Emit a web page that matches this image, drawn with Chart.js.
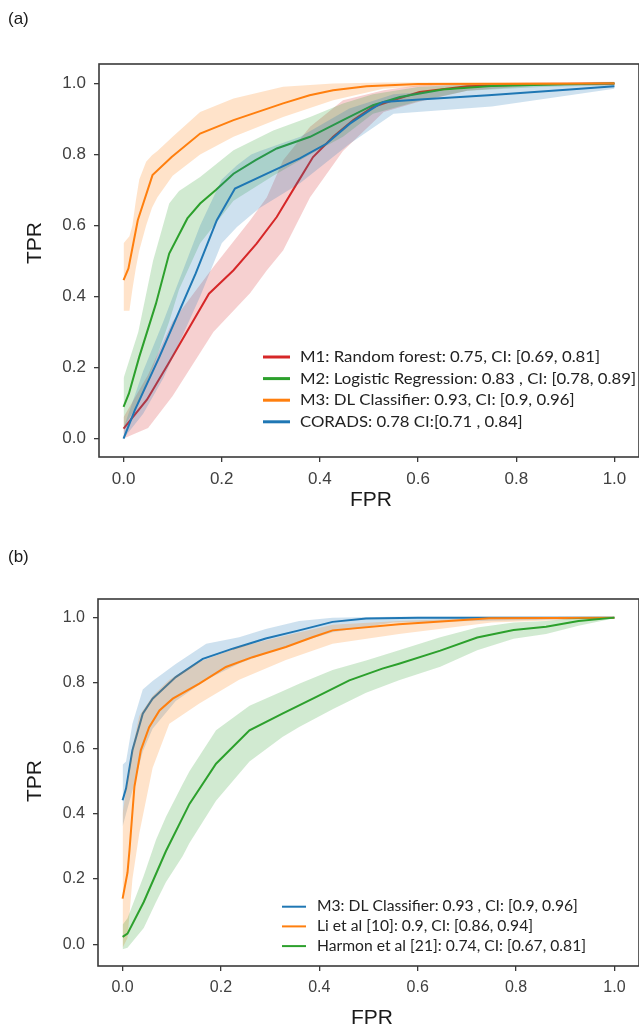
<!DOCTYPE html>
<html>
<head>
<meta charset="utf-8">
<script src="https://cdn.jsdelivr.net/npm/chart.js@4.4.1/dist/chart.umd.min.js"></script>
<style>
  html, body { margin: 0; padding: 0; background: #fff; }
  body { width: 639px; height: 1028px; position: relative; overflow: hidden; }
  .panel { position: absolute; left: 0; }
  #panelA { top: 0; }
  #panelB { top: 520px; }
</style>
</head>
<body>
<div class="panel" id="panelA"><canvas id="chartA" width="639" height="520"></canvas></div>
<div class="panel" id="panelB"><canvas id="chartB" width="639" height="508"></canvas></div>
<script>
// ---- ticks ----
const xTicks = [0, 0.2, 0.4, 0.6, 0.8, 1.0];
const yTicks = [0, 0.2, 0.4, 0.6, 0.8, 1.0];

// ---- panel (a) ----
const namesA = [
    'M1: Random forest: 0.75, CI: [0.69, 0.81]',
    'M2: Logistic Regression: 0.83 , CI: [0.78, 0.89]',
    'M3: DL Classifier: 0.93, CI: [0.9, 0.96]',
    'CORADS: 0.78 CI:[0.71 , 0.84]'
];
const colorsA = ['#d62728', '#2ca02c', '#ff7f0e', '#1f77b4'];

// M1 random forest
const rfFpr = [0, 0.048, 0.093, 0.174, 0.224, 0.271, 0.312, 0.353, 0.386, 0.427, 0.468, 0.508, 0.549, 0.603, 0.70, 0.85, 1.0];
const rfTpr = [0.028, 0.11, 0.215, 0.408, 0.474, 0.549, 0.624, 0.718, 0.793, 0.85, 0.897, 0.934, 0.953, 0.976, 0.992, 0.998, 1.0];
const rfBandFpr = [0, 0.05, 0.1, 0.183, 0.258, 0.292, 0.325, 0.38, 0.447, 0.53, 0.6, 0.7, 0.85, 1.0];
const rfLow = [0.0, 0.03, 0.12, 0.3, 0.41, 0.474, 0.53, 0.68, 0.81, 0.92, 0.948, 0.98, 0.995, 0.995];
const rfHigh = [0.06, 0.18, 0.33, 0.483, 0.615, 0.68, 0.784, 0.878, 0.953, 0.981, 0.995, 1.0, 1.003, 1.005];

// M2 logistic regression
const lrFpr = [0, 0.011, 0.032, 0.066, 0.093, 0.130, 0.156, 0.188, 0.224, 0.269, 0.312, 0.38, 0.447, 0.508, 0.563, 0.65, 0.75, 0.9, 1.0];
const lrTpr = [0.089, 0.127, 0.23, 0.38, 0.521, 0.62, 0.662, 0.70, 0.746, 0.784, 0.817, 0.85, 0.897, 0.939, 0.962, 0.983, 0.993, 0.998, 1.0];
const lrBandFpr = [0, 0.03, 0.06, 0.093, 0.113, 0.156, 0.224, 0.305, 0.38, 0.447, 0.508, 0.6, 0.7, 0.85, 1.0];
const lrLow = [0.03, 0.1, 0.2, 0.33, 0.42, 0.55, 0.67, 0.74, 0.8, 0.85, 0.915, 0.95, 0.98, 0.99, 0.995];
const lrHigh = [0.17, 0.3, 0.5, 0.662, 0.697, 0.737, 0.812, 0.868, 0.906, 0.944, 0.97, 0.99, 0.998, 1.0, 1.002];

// M3 DL classifier
const mlFpr = [0, 0.010, 0.029, 0.059, 0.098, 0.156, 0.224, 0.325, 0.379, 0.427, 0.495, 0.6, 1.0];
const mlTpr = [0.446, 0.479, 0.615, 0.742, 0.793, 0.859, 0.897, 0.944, 0.967, 0.981, 0.992, 0.999, 1.0];
const mlBandFpr = [0, 0.012, 0.018, 0.025, 0.032, 0.046, 0.058, 0.069, 0.1, 0.156, 0.224, 0.325, 0.427, 0.529, 0.65, 1.0];
const mlLow = [0.36, 0.36, 0.42, 0.48, 0.53, 0.6, 0.65, 0.68, 0.74, 0.8, 0.85, 0.906, 0.953, 0.985, 0.995, 0.997];
const mlHigh = [0.55, 0.57, 0.6, 0.67, 0.73, 0.78, 0.798, 0.81, 0.85, 0.92, 0.958, 0.991, 1.0, 1.003, 1.003, 1.003];

// CORADS
const crFpr = [0, 0.023, 0.073, 0.147, 0.19, 0.227, 0.292, 0.359, 0.414, 0.461, 0.502, 0.529, 0.603, 0.743, 0.909, 1.0];
const crTpr = [0.0, 0.08, 0.23, 0.465, 0.615, 0.704, 0.746, 0.789, 0.831, 0.887, 0.925, 0.948, 0.955, 0.967, 0.983, 0.992];
const crBandFpr = [0, 0.04, 0.081, 0.156, 0.2, 0.231, 0.26, 0.278, 0.36, 0.46, 0.55, 0.75, 1.0];
const crLow = [0.0, 0.07, 0.17, 0.4, 0.55, 0.596, 0.63, 0.65, 0.72, 0.83, 0.915, 0.935, 0.985];
const crHigh = [0.03, 0.19, 0.33, 0.6, 0.73, 0.77, 0.8, 0.81, 0.85, 0.93, 0.97, 0.99, 1.0];

// ---- panel (b) ----
const namesB = [
    'M3: DL Classifier: 0.93 , CI: [0.9, 0.96]',
    'Li et al [10]: 0.9, CI: [0.86, 0.94]',
    'Harmon et al [21]: 0.74, CI: [0.67, 0.81]'
];
const colorsB = ['#1f77b4', '#ff7f0e', '#2ca02c'];

// M3 DL classifier
const dlFpr = [0, 0.007, 0.02, 0.041, 0.061, 0.108, 0.163, 0.224, 0.291, 0.359, 0.427, 0.495, 0.6, 1.0];
const dlTpr = [0.441, 0.477, 0.594, 0.706, 0.752, 0.818, 0.874, 0.905, 0.936, 0.961, 0.987, 0.997, 1.0, 1.0];
const dlBandFpr = [0, 0.007, 0.02, 0.041, 0.061, 0.108, 0.17, 0.237, 0.291, 0.359, 0.427, 0.55, 1.0];
const dlLow = [0.36, 0.4, 0.47, 0.59, 0.66, 0.745, 0.81, 0.86, 0.89, 0.925, 0.955, 0.985, 0.997];
const dlHigh = [0.55, 0.56, 0.675, 0.78, 0.806, 0.858, 0.92, 0.94, 0.965, 0.99, 1.0, 1.003, 1.003];

// Li et al
const liFpr = [0, 0.01, 0.014, 0.024, 0.037, 0.054, 0.075, 0.102, 0.156, 0.21, 0.264, 0.332, 0.386, 0.427, 0.562, 0.663, 0.745, 1.0];
const liTpr = [0.14, 0.22, 0.288, 0.482, 0.594, 0.665, 0.716, 0.752, 0.798, 0.849, 0.879, 0.91, 0.94, 0.961, 0.98, 0.99, 0.998, 1.0];
const liBandFpr = [0, 0.01, 0.02, 0.034, 0.061, 0.095, 0.156, 0.237, 0.332, 0.427, 0.562, 0.75, 1.0];
const liLow = [-0.01, 0.02, 0.2, 0.34, 0.54, 0.675, 0.737, 0.81, 0.87, 0.92, 0.95, 0.985, 0.998];
const liHigh = [0.40, 0.5, 0.6, 0.7, 0.76, 0.81, 0.865, 0.91, 0.945, 0.978, 0.99, 1.0, 1.002];

// Harmon et al
const hmFpr = [0, 0.01, 0.043, 0.088, 0.136, 0.19, 0.258, 0.325, 0.393, 0.461, 0.528, 0.562, 0.646, 0.721, 0.795, 0.861, 0.927, 1.0];
const hmTpr = [0.023, 0.033, 0.13, 0.285, 0.43, 0.553, 0.655, 0.706, 0.757, 0.808, 0.844, 0.859, 0.899, 0.939, 0.962, 0.972, 0.99, 1.0];
const hmBandFpr = [0, 0.01, 0.043, 0.068, 0.088, 0.122, 0.136, 0.19, 0.258, 0.325, 0.359, 0.427, 0.495, 0.562, 0.646, 0.721, 0.795, 0.861, 0.927, 1.0];
const hmLow = [-0.015, -0.01, 0.05, 0.13, 0.19, 0.27, 0.31, 0.44, 0.56, 0.635, 0.665, 0.72, 0.77, 0.808, 0.85, 0.9, 0.935, 0.95, 0.975, 0.998];
const hmHigh = [0.06, 0.08, 0.21, 0.32, 0.39, 0.49, 0.53, 0.655, 0.73, 0.775, 0.798, 0.84, 0.869, 0.9, 0.94, 0.97, 0.985, 0.99, 1.0, 1.002];

// ============================================
// helpers
// ============================================
Chart.defaults.font.family = "'Liberation Sans', Arial, sans-serif";

const toPts = (xs, ys) => xs.map((x, i) => ({ x: x, y: ys[i] }));

function hexToRgba(hex, a) {
    const n = parseInt(hex.slice(1), 16);
    return `rgba(${(n >> 16) & 255}, ${(n >> 8) & 255}, ${n & 255}, ${a})`;
}

// one ROC curve = upper band + lower band + main line
function rocDatasets(list) {
    const out = [];
    const n = list.length;
    list.forEach((s, k) => {
        const ord = 2 * (n - k);
        out.push({
            label: s.name + ' upper',
            data: toPts(s.bandFpr, s.high),
            borderColor: 'rgba(0,0,0,0)',
            borderWidth: 0,
            backgroundColor: hexToRgba(s.color, 0.22),
            pointRadius: 0,
            fill: '+1',
            order: ord
        });
        out.push({
            label: s.name + ' lower',
            data: toPts(s.bandFpr, s.low),
            borderColor: 'rgba(0,0,0,0)',
            borderWidth: 0,
            pointRadius: 0,
            fill: false,
            order: ord
        });
        out.push({
            label: s.name,
            data: toPts(s.fpr, s.tpr),
            borderColor: s.color,
            borderWidth: 2,
            pointRadius: 0,
            fill: false,
            order: ord - 1
        });
    });
    return out;
}

// frame, axis titles, panel label and legend
const decorPlugin = {
    id: 'decor',
    afterDraw(chart, args, o) {
        const { ctx, chartArea: a } = chart;
        ctx.save();
        ctx.strokeStyle = '#3a3a3a';
        ctx.lineWidth = 1.6;
        ctx.strokeRect(a.left, a.top, a.right - a.left, a.bottom - a.top);

        ctx.fillStyle = '#1a1a1a';
        ctx.textAlign = 'left';
        ctx.textBaseline = 'middle';
        ctx.font = "17px 'Liberation Sans', Arial, sans-serif";
        ctx.fillText(o.panelLabel, o.labelX, o.labelY);

        ctx.textAlign = 'center';
        ctx.font = "21px 'Liberation Sans', Arial, sans-serif";
        ctx.fillText(o.xTitle, o.xTitleX, o.xTitleY);
        ctx.save();
        ctx.translate(o.yTitleX, o.yTitleY);
        ctx.rotate(-Math.PI / 2);
        ctx.fillText(o.yTitle, 0, 0);
        ctx.restore();

        const L = o.legend;
        ctx.font = `${L.size}px Lato, 'Liberation Sans', sans-serif`;
        const sx = L.refWidth / ctx.measureText(L.names[L.refRow]).width;
        L.names.forEach((name, i) => {
            const y = L.y + i * L.dy;
            ctx.strokeStyle = L.colors[i];
            ctx.lineWidth = L.lineWidth;
            ctx.beginPath();
            ctx.moveTo(L.lineX0, y);
            ctx.lineTo(L.lineX1, y);
            ctx.stroke();
            ctx.save();
            ctx.translate(L.textX, y);
            ctx.scale(sx, 1);
            ctx.fillStyle = '#222';
            ctx.textAlign = 'left';
            ctx.fillText(name, 0, 0);
            ctx.restore();
        });
        ctx.restore();
    }
};

function makeChart(canvasId, seriesList, cfg) {
    const tickFont = { size: cfg.tickSize };
    return new Chart(document.getElementById(canvasId), {
        type: 'line',
        data: { datasets: rocDatasets(seriesList) },
        options: {
            responsive: false,
            animation: false,
            devicePixelRatio: 1,
            layout: { padding: { top: cfg.top, left: 0, right: 0, bottom: 0 } },
            plugins: {
                legend: { display: false },
                tooltip: { enabled: false },
                decor: cfg.decor
            },
            scales: {
                x: {
                    type: 'linear',
                    min: -0.05,
                    max: 1.05,
                    afterBuildTicks: s => { s.ticks = xTicks.map(v => ({ value: v })); },
                    afterFit: s => { s.height = cfg.xHeight; },
                    ticks: { callback: v => v.toFixed(1), font: tickFont, color: '#404040', padding: 7, maxRotation: 0, autoSkip: false },
                    grid: { drawOnChartArea: false, drawTicks: true, tickLength: 5, color: '#3a3a3a', lineWidth: 1.3 },
                    border: { display: false }
                },
                y: {
                    type: 'linear',
                    min: cfg.yMin,
                    max: cfg.yMax,
                    afterBuildTicks: s => { s.ticks = yTicks.map(v => ({ value: v })); },
                    afterFit: s => { s.width = cfg.yWidth; },
                    ticks: { callback: v => v.toFixed(1), font: tickFont, color: '#404040', padding: 8, autoSkip: false },
                    grid: { drawOnChartArea: false, drawTicks: true, tickLength: 5, color: '#3a3a3a', lineWidth: 1.3 },
                    border: { display: false }
                }
            }
        },
        plugins: [decorPlugin]
    });
}

// ============================================
// panel (a)
// ============================================
makeChart('chartA', [
    { name: namesA[0], color: colorsA[0], fpr: rfFpr, tpr: rfTpr, bandFpr: rfBandFpr, low: rfLow, high: rfHigh },
    { name: namesA[1], color: colorsA[1], fpr: lrFpr, tpr: lrTpr, bandFpr: lrBandFpr, low: lrLow, high: lrHigh },
    { name: namesA[2], color: colorsA[2], fpr: mlFpr, tpr: mlTpr, bandFpr: mlBandFpr, low: mlLow, high: mlHigh },
    { name: namesA[3], color: colorsA[3], fpr: crFpr, tpr: crTpr, bandFpr: crBandFpr, low: crLow, high: crHigh }
], {
    top: 64, xHeight: 63, yWidth: 99, yMin: -0.052, yMax: 1.055, tickSize: 17,
    decor: {
        panelLabel: '(a)', labelX: 8, labelY: 19,
        xTitle: 'FPR', xTitleX: 371, xTitleY: 500,
        yTitle: 'TPR', yTitleX: 35, yTitleY: 243,
        legend: {
            names: namesA, colors: colorsA, size: 16, refRow: 1, refWidth: 336,
            lineX0: 263, lineX1: 290, lineWidth: 3, textX: 300, y: 357, dy: 21.6
        }
    }
});

// ============================================
// panel (b)
// ============================================
makeChart('chartB', [
    { name: namesB[0], color: colorsB[0], fpr: dlFpr, tpr: dlTpr, bandFpr: dlBandFpr, low: dlLow, high: dlHigh },
    { name: namesB[1], color: colorsB[1], fpr: liFpr, tpr: liTpr, bandFpr: liBandFpr, low: liLow, high: liHigh },
    { name: namesB[2], color: colorsB[2], fpr: hmFpr, tpr: hmTpr, bandFpr: hmBandFpr, low: hmLow, high: hmHigh }
], {
    top: 79, xHeight: 62, yWidth: 98, yMin: -0.066, yMax: 1.057, tickSize: 16,
    decor: {
        panelLabel: '(b)', labelX: 8, labelY: 37,
        xTitle: 'FPR', xTitleX: 372, xTitleY: 498,
        yTitle: 'TPR', yTitleX: 35, yTitleY: 261,
        legend: {
            names: namesB, colors: colorsB, size: 14.5, refRow: 2, refWidth: 269,
            lineX0: 282, lineX1: 306, lineWidth: 2, textX: 317, y: 386.7, dy: 19.7
        }
    }
});
</script>
</body>
</html>
